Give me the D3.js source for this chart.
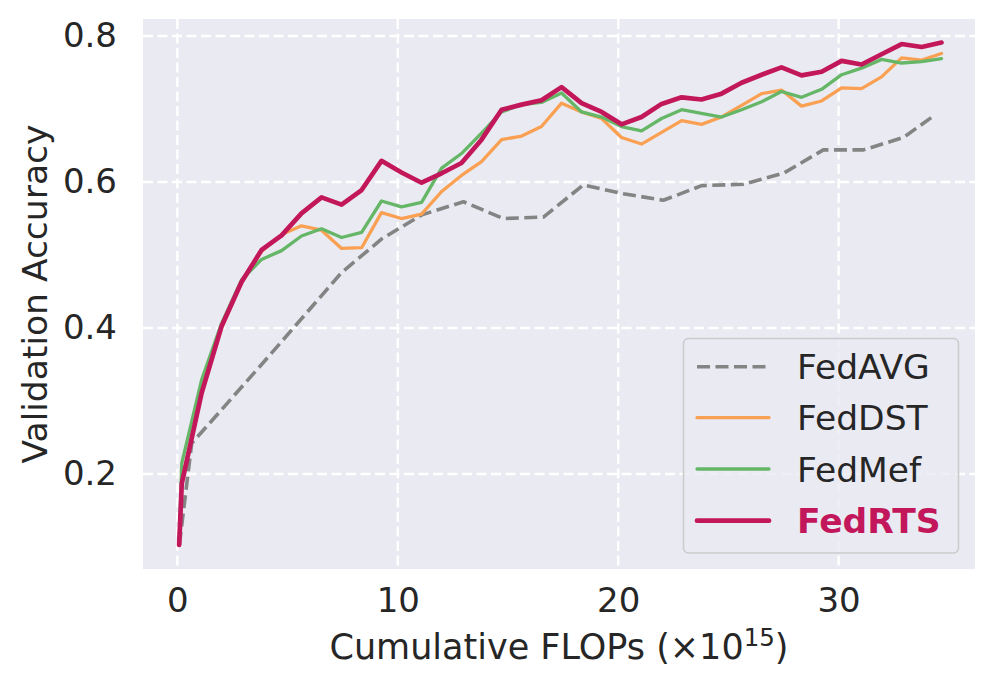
<!DOCTYPE html>
<html>
<head>
<meta charset="utf-8">
<script src="https://cdn.jsdelivr.net/npm/d3@7"></script>
<style>
  html, body { margin: 0; padding: 0; background: #ffffff; }
  svg text { font-family: "DejaVu Sans", sans-serif; fill: #262626; }
</style>
</head>
<body>
<svg id="chart" width="995" height="695"></svg>
<script>
// ---- data ----
const sparseX = [0.08, 0.20, 1.10, 2.00, 2.91, 3.82, 4.73, 5.63, 6.54, 7.45, 8.36, 9.26, 10.17, 11.08, 11.99, 12.89, 13.80, 14.71, 15.62, 16.52, 17.43, 18.34, 19.25, 20.15, 21.06, 21.97, 22.88, 23.78, 24.69, 25.60, 26.51, 27.41, 28.32, 29.23, 30.14, 31.04, 31.95, 32.86, 33.77, 34.67];
const fedDST = [0.103, 0.190, 0.310, 0.400, 0.462, 0.505, 0.528, 0.540, 0.534, 0.509, 0.510, 0.558, 0.550, 0.556, 0.587, 0.609, 0.628, 0.658, 0.663, 0.676, 0.708, 0.696, 0.687, 0.661, 0.652, 0.668, 0.684, 0.679, 0.689, 0.705, 0.721, 0.726, 0.704, 0.711, 0.729, 0.728, 0.744, 0.770, 0.767, 0.776];
const fedMef = [0.103, 0.215, 0.329, 0.406, 0.466, 0.494, 0.506, 0.526, 0.536, 0.524, 0.531, 0.574, 0.566, 0.572, 0.619, 0.639, 0.667, 0.696, 0.706, 0.709, 0.722, 0.696, 0.689, 0.676, 0.670, 0.687, 0.699, 0.694, 0.689, 0.699, 0.710, 0.724, 0.716, 0.727, 0.747, 0.756, 0.768, 0.763, 0.765, 0.769];
const fedRTS = [0.103, 0.187, 0.311, 0.402, 0.463, 0.507, 0.527, 0.557, 0.579, 0.569, 0.589, 0.629, 0.613, 0.599, 0.612, 0.626, 0.658, 0.699, 0.706, 0.712, 0.730, 0.708, 0.696, 0.679, 0.689, 0.707, 0.716, 0.713, 0.721, 0.736, 0.747, 0.757, 0.746, 0.751, 0.766, 0.761, 0.775, 0.789, 0.785, 0.791];
const avgX = [0.09, 0.65, 3.82, 5.64, 7.45, 9.27, 11.09, 12.98, 14.79, 16.61, 18.42, 20.24, 22.05, 23.79, 25.68, 27.50, 29.31, 31.13, 32.94, 34.38];
const fedAVG = [0.103, 0.242, 0.350, 0.413, 0.476, 0.522, 0.555, 0.573, 0.550, 0.552, 0.596, 0.584, 0.575, 0.595, 0.597, 0.612, 0.644, 0.644, 0.661, 0.692];
const xTicks = [0, 10, 20, 30];
const yTicks = [0.2, 0.4, 0.6, 0.8];
const seriesNames = ["FedAVG", "FedDST", "FedMef", "FedRTS"];

// ---- layout ----
const svg = d3.select("#chart");
const plot = {left: 143, right: 975, top: 19, bottom: 569};
const x = d3.scaleLinear().domain([-1.56, 36.19]).range([plot.left, plot.right]);
const y = d3.scaleLinear().domain([0.0699, 0.8233]).range([plot.bottom, plot.top]);

svg.append("rect")
  .attr("x", plot.left).attr("y", plot.top)
  .attr("width", plot.right - plot.left).attr("height", plot.bottom - plot.top)
  .attr("fill", "#EAEAF2");

// grid
const grid = svg.append("g");
grid.selectAll("line.v").data(xTicks).join("line")
  .attr("x1", d => x(d)).attr("x2", d => x(d))
  .attr("y1", plot.top).attr("y2", plot.bottom)
  .attr("stroke", "#ffffff").attr("stroke-width", 2.4).attr("stroke-dasharray", "10,4.5");
grid.selectAll("line.h").data(yTicks).join("line")
  .attr("y1", d => y(d)).attr("y2", d => y(d))
  .attr("x1", plot.left).attr("x2", plot.right)
  .attr("stroke", "#ffffff").attr("stroke-width", 2.4).attr("stroke-dasharray", "10,4.5");

// axes
const xAxis = svg.append("g").attr("transform", `translate(0,${plot.bottom})`)
  .call(d3.axisBottom(x).tickValues(xTicks).tickSize(0).tickPadding(19).tickFormat(d3.format("d")));
const yAxis = svg.append("g").attr("transform", `translate(${plot.left},0)`)
  .call(d3.axisLeft(y).tickValues(yTicks).tickSize(0).tickPadding(26).tickFormat(d3.format(".1f")));
[xAxis, yAxis].forEach(a => {
  a.select(".domain").remove();
  a.selectAll("text").style("font-size", "34px").attr("fill", "#262626")
    .style("font-family", '"DejaVu Sans", sans-serif');
});
xAxis.selectAll("text").attr("dy", "0.71em");

// axis labels
const xl = svg.append("text").attr("x", (plot.left + plot.right) / 2).attr("y", 659)
  .attr("text-anchor", "middle").style("font-size", "35px");
xl.append("tspan").text("Cumulative FLOPs (×10");
xl.append("tspan").attr("dy", "-13").style("font-size", "24.5px").text("15");
xl.append("tspan").attr("dy", "13").text(")");

svg.append("text")
  .attr("transform", `translate(47,${(plot.top + plot.bottom) / 2}) rotate(-90)`)
  .attr("text-anchor", "middle").style("font-size", "34.5px")
  .text("Validation Accuracy");

// lines
const line = d3.line().x(d => x(d[0])).y(d => y(d[1]));
const zipS = vals => sparseX.map((xv, i) => [xv, vals[i]]);
const styles = {
  FedAVG: {color: "#848484", width: 3.6, dash: "13,5.5"},
  FedDST: {color: "#F9A052", width: 3.3, dash: null},
  FedMef: {color: "#65B667", width: 3.3, dash: null},
  FedRTS: {color: "#C2185B", width: 4.7, dash: null}
};
const seriesData = {
  FedAVG: avgX.map((xv, i) => [xv, fedAVG[i]]),
  FedDST: zipS(fedDST),
  FedMef: zipS(fedMef),
  FedRTS: zipS(fedRTS)
};
const lines = svg.append("g");
seriesNames.forEach(name => {
  const s = styles[name];
  lines.append("path").datum(seriesData[name])
    .attr("d", line).attr("fill", "none")
    .attr("stroke", s.color).attr("stroke-width", s.width)
    .attr("stroke-linejoin", "round").attr("stroke-linecap", s.dash ? "butt" : "round")
    .attr("stroke-dasharray", s.dash);
});

// legend
const lg = svg.append("g");
lg.append("rect").attr("x", 683.5).attr("y", 338.5).attr("width", 275).attr("height", 214.5)
  .attr("rx", 5).attr("fill", "#EAEAF2").attr("fill-opacity", 0.8)
  .attr("stroke", "#cccccc").attr("stroke-width", 1.6);
const rowY = [366.7, 417.7, 469, 520.7];
seriesNames.forEach((name, i) => {
  const s = styles[name];
  lg.append("line").attr("x1", 697).attr("x2", 769).attr("y1", rowY[i]).attr("y2", rowY[i])
    .attr("stroke", s.color).attr("stroke-width", s.width)
    .attr("stroke-dasharray", s.dash).attr("stroke-linecap", s.dash ? "butt" : "round");
  const t = lg.append("text").attr("x", 797).attr("y", rowY[i] + 12.5)
    .style("font-size", "34.5px").text(name);
  if (name === "FedRTS") t.style("font-weight", "bold").style("fill", "#C2185B");
});
</script>
</body>
</html>
